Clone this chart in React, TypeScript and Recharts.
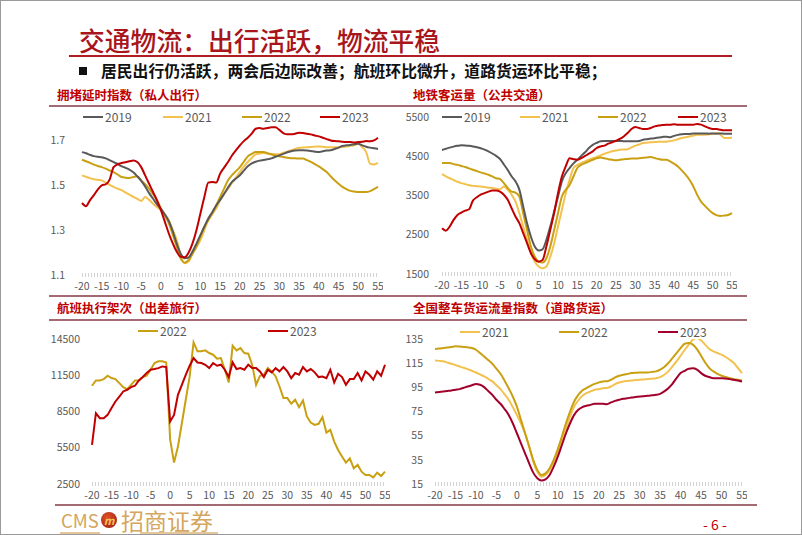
import React from 'react';
import { LineChart, Line, XAxis, YAxis } from 'recharts';

const X = [-20,-19,-18,-17,-16,-15,-14,-13,-12,-11,-10,-9,-8,-7,-6,-5,-4,-3,-2,-1,0,1,2,3,4,5,6,7,8,9,10,11,12,13,14,15,16,17,18,19,20,21,22,23,24,25,26,27,28,29,30,31,32,33,34,35,36,37,38,39,40,41,42,43,44,45,46,47,48,49,50,51,52,53,54,55];
const X_TICKS = [-20,-15,-10,-5,0,5,10,15,20,25,30,35,40,45,50,55];

// 拥堵延时指数
const CONG_2019 = [1.648,1.643,1.636,1.63,1.627,1.625,1.62,1.612,1.603,1.595,1.585,1.578,1.57,1.558,1.54,1.52,1.495,1.465,1.44,1.415,1.395,1.37,1.34,1.295,1.24,1.195,1.175,1.178,1.205,1.24,1.278,1.315,1.352,1.38,1.41,1.435,1.462,1.49,1.515,1.53,1.545,1.565,1.585,1.598,1.605,1.61,1.613,1.616,1.62,1.627,1.633,1.64,1.647,1.652,1.655,1.656,1.656,1.655,1.653,1.65,1.648,1.652,1.655,1.656,1.662,1.668,1.675,1.678,1.68,1.683,1.685,1.678,1.672,1.668,1.665,1.662];
const CONG_2021 = [1.544,1.538,1.532,1.527,1.524,1.522,1.512,1.502,1.493,1.485,1.478,1.468,1.458,1.448,1.44,1.43,1.448,1.435,1.418,1.403,1.389,1.37,1.344,1.3,1.256,1.19,1.152,1.16,1.196,1.226,1.256,1.3,1.344,1.372,1.396,1.433,1.46,1.485,1.51,1.535,1.56,1.583,1.604,1.622,1.638,1.641,1.644,1.641,1.638,1.638,1.638,1.645,1.65,1.656,1.662,1.667,1.668,1.67,1.671,1.672,1.673,1.672,1.67,1.67,1.67,1.67,1.671,1.673,1.676,1.678,1.685,1.67,1.648,1.596,1.593,1.6];
const CONG_2022 = [1.614,1.607,1.6,1.592,1.586,1.581,1.574,1.566,1.559,1.548,1.537,1.534,1.533,1.537,1.54,1.522,1.505,1.485,1.46,1.433,1.396,1.365,1.33,1.28,1.226,1.174,1.155,1.167,1.195,1.226,1.27,1.315,1.345,1.374,1.41,1.448,1.485,1.522,1.545,1.563,1.581,1.605,1.629,1.64,1.648,1.648,1.648,1.643,1.638,1.633,1.629,1.626,1.623,1.621,1.62,1.619,1.619,1.612,1.604,1.594,1.584,1.572,1.559,1.54,1.522,1.507,1.493,1.483,1.475,1.472,1.47,1.47,1.47,1.474,1.483,1.493];
const CONG_2023 = [1.421,1.407,1.433,1.456,1.481,1.5,1.504,1.525,1.581,1.593,1.599,1.603,1.607,1.611,1.604,1.581,1.544,1.507,1.47,1.433,1.389,1.337,1.285,1.241,1.204,1.181,1.179,1.199,1.241,1.3,1.374,1.448,1.512,1.515,1.512,1.552,1.579,1.604,1.633,1.656,1.678,1.697,1.712,1.73,1.752,1.755,1.752,1.755,1.759,1.759,1.747,1.733,1.727,1.727,1.73,1.734,1.733,1.73,1.727,1.722,1.718,1.712,1.706,1.7,1.697,1.696,1.694,1.693,1.693,1.691,1.693,1.694,1.697,1.696,1.7,1.712];

// 地铁客运量
const METRO_2019 = [4660,4690,4720,4745,4765,4780,4775,4765,4750,4730,4705,4670,4625,4570,4510,4430,4290,4150,3990,3860,3650,3220,2790,2450,2200,2100,2130,2370,2710,3090,3470,3860,4070,4200,4320,4410,4510,4600,4710,4790,4840,4880,4890,4890,4890,4890,4890,4885,4885,4885,4880,4890,4920,4935,4950,4960,4980,4990,5000,4985,5020,5045,5060,5065,5070,5080,5080,5080,5080,5075,5080,5075,5080,5075,5075,5075];
const METRO_2021 = [4045,3990,3940,3895,3850,3815,3790,3765,3745,3738,3730,3715,3700,3690,3675,3660,3730,3645,3520,3350,3050,2710,2370,2030,1815,1690,1645,1690,1940,2280,2710,3130,3560,3900,4200,4280,4325,4370,4410,4450,4480,4520,4565,4595,4625,4645,4665,4672,4680,4725,4770,4800,4835,4845,4855,4862,4870,4870,4870,4885,4905,4935,4965,4985,5005,5028,5050,5050,5050,5058,5065,5090,5050,4965,4965,4980];
const METRO_2022 = [4325,4325,4325,4300,4280,4252,4225,4190,4155,4122,4090,4060,4030,3985,3940,3915,3815,3690,3600,3575,3475,3050,2620,2200,1940,1815,1790,1900,2200,2620,3050,3475,3645,3770,3985,4200,4280,4325,4370,4410,4450,4470,4450,4425,4410,4395,4410,4425,4430,4440,4445,4452,4460,4470,4480,4455,4430,4410,4410,4370,4310,4240,4140,4030,3900,3730,3515,3345,3235,3135,3050,3000,2980,2990,3005,3050];
const METRO_2023 = [2665,2605,2710,2880,3005,3065,3115,3150,3370,3455,3520,3560,3600,3625,3625,3600,3520,3390,3175,2965,2795,2540,2285,2030,1875,1815,1855,2200,2620,3050,3560,3985,4240,4450,4425,4410,4450,4510,4565,4625,4710,4750,4770,4820,4855,4895,4940,5005,5090,5195,5245,5220,5195,5195,5220,5260,5285,5295,5305,5305,5315,5305,5305,5300,5300,5305,5320,5305,5260,5220,5195,5195,5175,5160,5160,5160];

// 航班执行架次
const FLIGHT_2022 = [10630,11070,11070,11180,11460,11270,11180,10850,10520,10350,10710,11070,11070,11350,11460,11960,12510,12650,12650,12560,6200,4270,5600,7530,9470,11400,14220,13480,13480,13560,13340,13200,12870,12920,11960,10900,13950,13560,13750,13340,13280,12370,10710,11460,11540,12090,11820,11400,10570,9610,9610,9140,9470,8860,9410,8090,7590,7390,7480,8030,6760,6980,6010,5320,4770,4270,4630,3800,4080,3520,3250,3250,3050,3440,3160,3520];
const FLIGHT_2023 = [5740,8360,7950,7950,8220,8780,9330,9740,10160,10300,10520,10630,11070,11350,11680,11960,12010,12090,12230,12180,7670,8220,9880,10710,11540,12290,12920,12560,12510,12370,12090,12510,12290,12370,11960,11350,12560,12010,12090,11960,12370,12090,12090,11820,11350,11960,11740,12090,11820,12180,11820,11260,11680,11540,12180,11820,12010,11740,11350,11400,11260,11960,10900,11620,11350,10710,11180,11180,11680,11070,11820,11540,11130,11820,11460,12370];

// 全国整车货运流量指数
const TRUCK_2021 = [117.3,116.9,116.5,115.5,114.5,113.4,112.3,111.2,110.1,108.7,107.3,105.7,104,102,99.9,96.8,93.5,89.3,84.7,78.7,72.2,65.3,57,46,33.5,25.2,21.1,22.5,26.6,33.5,41.8,51.5,61.2,70.8,79.1,84.1,88,90.2,91.6,93,93.5,94.3,94.5,95.7,97.7,99,99.9,100.3,100.7,101,101.3,101.5,101.8,102.2,102.6,103.5,105.4,108.2,112.3,116.5,121.2,126.1,130.3,134.4,135.8,133.9,130.3,126.7,124.8,123.4,122,120.1,117.8,115.1,111,106.8];
const TRUCK_2022 = [126.7,127.1,127.5,128,128.4,128.9,128.7,128.4,128.1,127.5,126.1,123.4,120.6,117.6,114.5,110.5,106.2,100.5,94.3,87.4,79.1,68.1,57,46,34.9,26.6,22.5,23.8,28,34.9,43.8,54.3,65.3,75,83.3,88.8,92.4,94.3,96.3,97.9,99,99.9,100,101.3,103.2,104.6,105.4,106.1,106.8,107.1,107.3,107.3,107.3,107.8,108.2,109.6,111.8,115.1,119.2,123.4,127.5,131.1,131.7,130.3,126.7,121.2,115.6,111,108.2,106.2,104.6,103.5,102.6,101.8,101.3,100.7];
const TRUCK_2023 = [90.8,91.2,91.6,92,92.4,93,93.5,94.6,95.7,96.7,97.7,97.1,95.2,92,88.8,84.7,81.4,77,72.2,65.3,57,48.7,40.4,32.1,24.4,19.7,17.8,18.9,22.5,29.4,37.7,47.3,57,65.3,72.2,76.4,78.6,79.7,80.5,81.4,81.4,81.4,81.1,82.5,83.8,84.7,85.5,86,86.6,87,87.4,87.7,88,88.4,88.8,89.6,91.6,94.3,97.9,102.6,106.8,108.7,110.4,110.7,109.6,106.8,104.6,103.5,102.6,102.6,102.6,102.4,101.8,101.3,100.7,99.9];

const C2019 = '#595959';
const C2021 = '#F3C24E';
const C2022 = '#C9A012';
const C2023 = '#C00000';
const C2023B = '#A2002C';
const RED = '#C00000';
const FONT = '"Noto Sans CJK SC", "Noto Sans", sans-serif';

const congData = X.map((x, i) => ({ x, a: CONG_2019[i], b: CONG_2021[i], c: CONG_2022[i], d: CONG_2023[i] }));
const metroData = X.map((x, i) => ({ x, a: METRO_2019[i], b: METRO_2021[i], c: METRO_2022[i], d: METRO_2023[i] }));
const flightData = X.map((x, i) => ({ x, c: FLIGHT_2022[i], d: FLIGHT_2023[i] }));
const truckData = X.map((x, i) => ({ x, b: TRUCK_2021[i], c: TRUCK_2022[i], d: TRUCK_2023[i] }));

const tickStyle = { fill: '#595959', fontSize: 10.5, fontFamily: FONT };

function xAxis() {
  return (
    <XAxis
      dataKey="x"
      type="number"
      domain={[-20, 55]}
      ticks={X_TICKS}
      interval={0}
      tickLine={false}
      tickSize={0}
      tickMargin={8}
      height={25}
      axisLine={{ stroke: '#D3D3D3', strokeWidth: 4, strokeDasharray: '1 2' }}
      tick={tickStyle}
    />
  );
}

function yAxis(domain: number[], ticks: number[], width: number, margin: number, fmt?: (v: number) => string) {
  return (
    <YAxis
      type="number"
      domain={domain}
      ticks={ticks}
      allowDataOverflow
      axisLine={false}
      tickLine={false}
      tickSize={0}
      tickMargin={margin}
      width={width}
      tick={tickStyle}
      tickFormatter={fmt}
    />
  );
}

function line(key: string, color: string, linear = false) {
  return (
    <Line
      key={key}
      type={linear ? 'linear' : 'monotone'}
      dataKey={key}
      stroke={color}
      strokeWidth={2}
      dot={false}
      isAnimationActive={false}
    />
  );
}

type LegItem = { label: string; color: string; x: number };
function Legend({ y, items }: { y: number; items: LegItem[] }) {
  return (
    <>
      {items.map((it) => (
        <div key={it.label + it.x} style={{ position: 'absolute', left: it.x, top: y - 8, height: 16, display: 'flex', alignItems: 'center' }}>
          <div style={{ width: 20, height: 2, background: it.color }} />
          <span style={{ marginLeft: 2, fontSize: 12, color: '#595959', fontFamily: FONT, lineHeight: '16px' }}>{it.label}</span>
        </div>
      ))}
    </>
  );
}

function Text({ x, y, size, color, weight, children }: any) {
  return (
    <div style={{ position: 'absolute', left: x, top: y - size / 2 - 2, fontSize: size, lineHeight: `${size + 4}px`, color, fontWeight: weight, fontFamily: FONT, whiteSpace: 'nowrap' }}>
      {children}
    </div>
  );
}

function HLine({ x1, x2, y, color, w }: any) {
  return <div style={{ position: 'absolute', left: x1, top: y - w / 2, width: x2 - x1, height: w, background: color }} />;
}

export default function App() {
  const sep = '#A46A74';
  return (
    <div style={{ position: 'absolute', left: 0, top: 0, width: 802, height: 535, background: '#fff', overflow: 'hidden', boxSizing: 'border-box', border: '1px solid #9a9a9a' }}>
      <div style={{ position: 'absolute', left: -1, top: -1, width: 802, height: 535 }}>
        <Text x={79} y={40} size={25.8} color="#A8151B" weight={500}>交通物流：出行活跃，物流平稳</Text>
        <HLine x1={69} x2={732} y={56} color="#B01E23" w={2} />
        <div style={{ position: 'absolute', left: 79, top: 67, width: 8, height: 8, background: '#111' }} />
        <Text x={101} y={71} size={15.8} color="#111" weight={700}>居民出行仍活跃，两会后边际改善；航班环比微升，道路货运环比平稳；</Text>

        <Text x={57} y={95} size={12.5} color={RED} weight={700}>拥堵延时指数（私人出行）</Text>
        <Text x={413} y={95} size={12.5} color={RED} weight={700}>地铁客运量（公共交通）</Text>
        <HLine x1={49} x2={747} y={106} color={sep} w={1.5} />

        <HLine x1={49} x2={747} y={296} color={sep} w={1.5} />
        <Text x={57} y={308} size={12.5} color={RED} weight={700}>航班执行架次（出差旅行）</Text>
        <Text x={413} y={308} size={12.5} color={RED} weight={700}>全国整车货运流量指数（道路货运）</Text>
        <HLine x1={49} x2={747} y={320} color={sep} w={1.5} />

        <HLine x1={55} x2={757} y={505} color={sep} w={1.5} />

        <div style={{ position: 'absolute', left: 40, top: 110 }}>
          <LineChart width={343} height={190} data={congData} margin={{ top: 8, right: 5, left: 0, bottom: 0 }}>
            {xAxis()}
            {yAxis([1.1, 1.8], [1.1, 1.3, 1.5, 1.7], 42, 17, (v: number) => v.toFixed(1))}
            {line('b', C2021)}
            {line('c', C2022)}
            {line('a', C2019)}
            {line('d', C2023)}
          </LineChart>
        </div>
        <Legend y={117} items={[{ label: '2019', color: C2019, x: 83 }, { label: '2021', color: C2021, x: 163 }, { label: '2022', color: C2022, x: 242 }, { label: '2023', color: C2023, x: 320 }]} />

        <div style={{ position: 'absolute', left: 400, top: 110 }}>
          <LineChart width={337} height={189} data={metroData} margin={{ top: 7, right: 5, left: 0, bottom: 0 }}>
            {xAxis()}
            {yAxis([1500, 5500], [1500, 2500, 3500, 4500, 5500], 42, 13)}
            {line('b', C2021)}
            {line('c', C2022)}
            {line('a', C2019)}
            {line('d', C2023)}
          </LineChart>
        </div>
        <Legend y={117} items={[{ label: '2019', color: C2019, x: 442 }, { label: '2021', color: C2021, x: 520 }, { label: '2022', color: C2022, x: 598 }, { label: '2023', color: C2023, x: 678 }]} />

        <div style={{ position: 'absolute', left: 40, top: 330 }}>
          <LineChart width={350} height={179} data={flightData} margin={{ top: 9, right: 5, left: 0, bottom: 0 }}>
            {xAxis()}
            {yAxis([2500, 14500], [2500, 5500, 8500, 11500, 14500], 52, 12)}
            {line('c', C2022, true)}
            {line('d', C2023, true)}
          </LineChart>
        </div>
        <Legend y={331} items={[{ label: '2022', color: C2022, x: 138 }, { label: '2023', color: C2023, x: 268 }]} />

        <div style={{ position: 'absolute', left: 400, top: 330 }}>
          <LineChart width={347} height={179} data={truckData} margin={{ top: 9, right: 5, left: 0, bottom: 0 }}>
            {xAxis()}
            {yAxis([15, 135], [15, 35, 55, 75, 95, 115, 135], 35, 12)}
            {line('b', C2021)}
            {line('c', C2022)}
            {line('d', C2023B)}
          </LineChart>
        </div>
        <Legend y={332} items={[{ label: '2021', color: C2021, x: 460 }, { label: '2022', color: C2022, x: 559 }, { label: '2023', color: C2023B, x: 658 }]} />

        <Text x={61} y={520} size={18.5} color="#D4A65E" weight={400}>CMS</Text>
        <div style={{ position: 'absolute', left: 101, top: 512, width: 16, height: 16, borderRadius: 8, background: 'radial-gradient(circle at 40% 35%, #E0522A, #9A1A0E)', color: '#F4C65A', fontSize: 11, fontStyle: 'italic', fontWeight: 700, textAlign: 'center', lineHeight: '16px', fontFamily: FONT }}>m</div>
        <Text x={121} y={520} size={23} color="#D4A65E" weight={400}>招商证券</Text>
        <HLine x1={60} x2={100} y={533} color="#E3C79A" w={1.2} />
        <HLine x1={140} x2={218} y={533} color="#E3C79A" w={1.2} />
        <Text x={703} y={524} size={14} color={RED} weight={400}>- 6 -</Text>
      </div>
    </div>
  );
}
